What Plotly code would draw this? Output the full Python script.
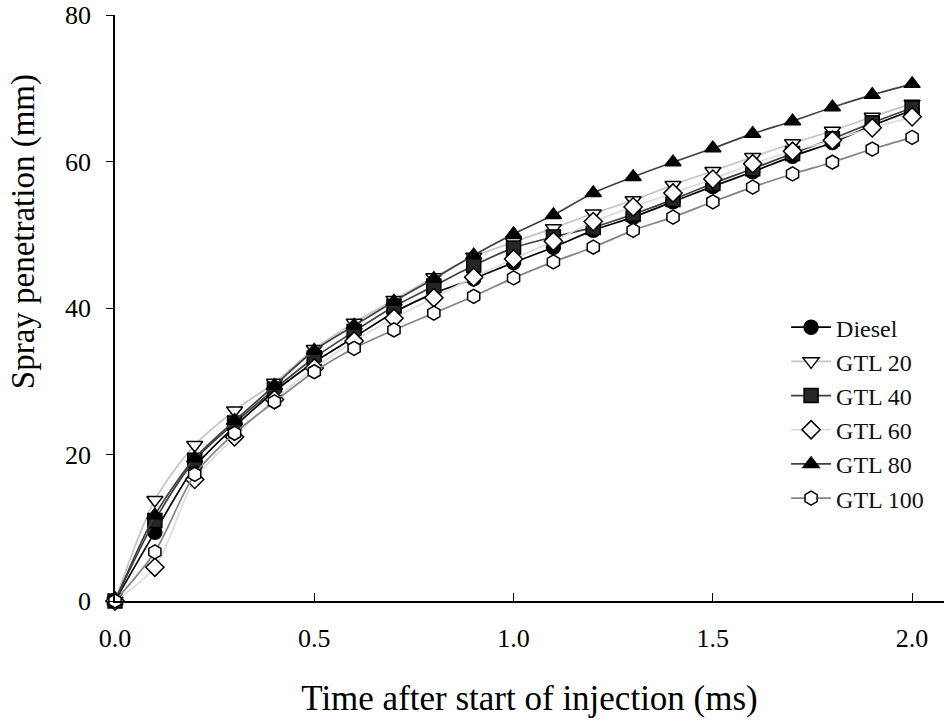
import plotly.graph_objects as go

# Time after start of injection (ms)
time_ms = [0.0, 0.1, 0.2, 0.3, 0.4, 0.5, 0.6, 0.7, 0.8, 0.9, 1.0,
           1.1, 1.2, 1.3, 1.4, 1.5, 1.6, 1.7, 1.8, 1.9, 2.0]

# Spray penetration (mm) for each fuel
diesel = [0, 9.4, 18.3, 23.8, 28.6, 32.6, 36.0, 39.4, 42.0, 44.0, 46.2,
          48.3, 50.6, 52.4, 54.5, 56.6, 58.6, 60.7, 62.6, 64.9, 67.0]
gtl20 = [0, 13.8, 21.3, 26.0, 29.8, 34.4, 38.0, 41.1, 44.2, 47.0, 49.0,
         50.9, 52.9, 54.7, 56.8, 58.7, 60.6, 62.5, 64.2, 66.1, 67.9]
gtl40 = [0, 11.0, 19.2, 24.3, 28.9, 33.2, 36.8, 40.2, 43.0, 45.8, 48.2,
         49.7, 51.0, 52.8, 54.8, 57.0, 59.0, 61.1, 63.1, 65.3, 67.3]
gtl60 = [0, 4.6, 16.6, 22.4, 27.5, 31.8, 35.5, 38.6, 41.4, 44.2, 46.7,
         49.1, 51.8, 53.8, 55.7, 57.6, 59.7, 61.4, 62.9, 64.6, 66.1]
gtl80 = [0, 11.7, 19.5, 24.6, 29.4, 34.2, 37.6, 40.9, 44.0, 47.2, 50.1,
         52.7, 55.7, 57.9, 59.9, 61.8, 63.8, 65.5, 67.4, 69.1, 70.6]
gtl100 = [0, 6.7, 17.3, 22.9, 27.2, 31.3, 34.5, 37.0, 39.3, 41.6, 44.1,
          46.3, 48.3, 50.6, 52.4, 54.5, 56.5, 58.3, 59.9, 61.7, 63.3]

series = [
    ("Diesel", diesel, "#000000", "circle", "#000000"),
    ("GTL 20", gtl20, "#c4c4c4", "triangle-down", "#ffffff"),
    ("GTL 40", gtl40, "#404040", "square", "#262626"),
    ("GTL 60", gtl60, "#dcdcdc", "diamond", "#ffffff"),
    ("GTL 80", gtl80, "#404040", "triangle-up", "#000000"),
    ("GTL 100", gtl100, "#858585", "hexagon", "#ffffff"),
]

FONT = "Liberation Serif"

fig = go.Figure()
for name, vals, line_col, sym, fill in series:
    fig.add_trace(go.Scatter(
        x=time_ms, y=vals, name=name, mode="lines+markers",
        line=dict(color=line_col, width=1.7, shape="spline", smoothing=0.8),
        marker=dict(symbol=sym, size=14, color=fill,
                    line=dict(color="#000000", width=1.5)),
        cliponaxis=False,
    ))

# Vertical axis title, placed as an annotation so it can sit above centre
fig.add_annotation(
    text="Spray penetration (mm)", textangle=-90,
    xref="paper", yref="paper", x=-0.111, y=0.631,
    xanchor="center", yanchor="middle", showarrow=False,
    font=dict(family=FONT, size=33, color="#000000"),
)

fig.update_layout(
    width=944, height=727,
    margin=dict(l=115, r=0, t=15, b=126),
    paper_bgcolor="white", plot_bgcolor="white",
    font=dict(family=FONT, size=24, color="#000000"),
    showlegend=True,
    legend=dict(x=0.8095, y=0.505, xanchor="left", yanchor="top",
                font=dict(family=FONT, size=24, color="#111111"),
                bgcolor="rgba(0,0,0,0)", tracegroupgap=0,
                itemwidth=40),
    xaxis=dict(range=[0, 2.08], tickvals=[0, 0.5, 1.0, 1.5, 2.0],
               tickformat=".1f", ticks="inside", ticklen=8, tickwidth=1.3,
               tickcolor="#000000", showline=True, linecolor="#000000",
               linewidth=1.5, showgrid=False, zeroline=False,
               tickfont=dict(size=26), ticklabelstandoff=13,
               title=dict(text="Time after start of injection (ms)",
                          font=dict(size=35), standoff=34)),
    yaxis=dict(range=[0, 80], tickvals=[0, 20, 40, 60, 80],
               ticks="outside", ticklen=7, tickwidth=1.3,
               tickcolor="#000000", showline=True, linecolor="#000000",
               linewidth=1.5, showgrid=False, zeroline=False,
               tickfont=dict(size=26), ticklabelstandoff=10),
)

fig.write_html("out.html")
